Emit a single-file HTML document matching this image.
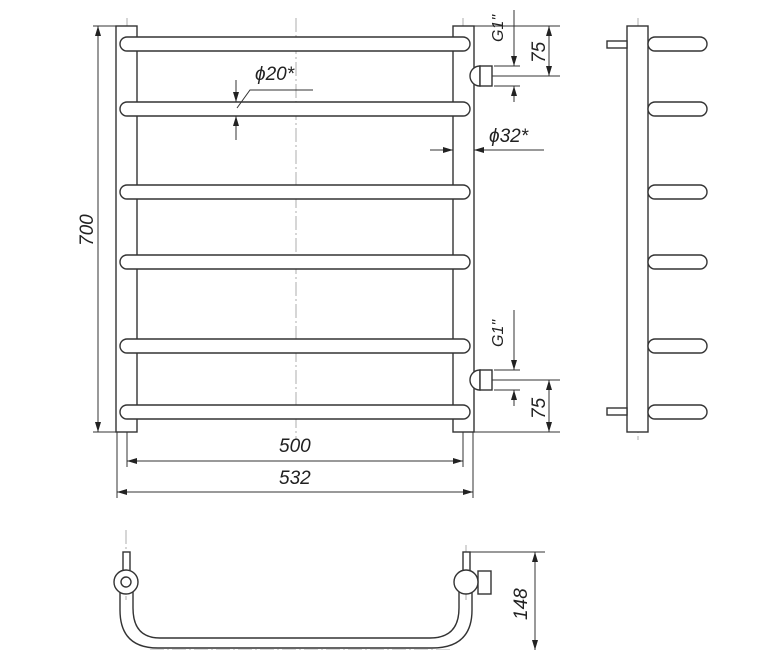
<!DOCTYPE html>
<html><head><style>body{margin:0;background:#fff}svg{display:block}text{font-family:"Liberation Sans",sans-serif;font-style:italic;fill:#222}</style></head>
<body>
<svg width="780" height="650" viewBox="0 0 780 650" xmlns="http://www.w3.org/2000/svg">
<defs>
<marker id="a" viewBox="0 0 10 6" refX="10" refY="3" markerWidth="10" markerHeight="6" orient="auto-start-reverse" markerUnits="userSpaceOnUse"><path d="M0,0L10,3L0,6z" fill="#222"/></marker>
</defs>
<g stroke="#999" stroke-width="0.8" stroke-dasharray="14,3,2,3" fill="none">
<line x1="296" y1="18" x2="296" y2="440"/>
<line x1="127" y1="18" x2="127" y2="440"/>
<line x1="463" y1="18" x2="463" y2="440"/>
<line x1="638" y1="18" x2="638" y2="440"/>
<line x1="126" y1="530" x2="126" y2="600"/>
<line x1="466" y1="545" x2="466" y2="600"/>
<line x1="150" y1="650" x2="450" y2="650"/>
</g>
<g stroke="#333" stroke-width="1.4" fill="#fff">
<rect x="116" y="26" width="21" height="406"/>
<rect x="453" y="26" width="21" height="406"/>
<rect x="120" y="37" width="350" height="14" rx="7"/>
<rect x="120" y="102" width="350" height="14" rx="7"/>
<rect x="120" y="185" width="350" height="14" rx="7"/>
<rect x="120" y="255" width="350" height="14" rx="7"/>
<rect x="120" y="339" width="350" height="14" rx="7"/>
<rect x="120" y="405" width="350" height="14" rx="7"/>
<path d="M480,66 A10,10 0 0 0 480,86 Z"/><rect x="480" y="66" width="12" height="20"/>
<path d="M480,370 A10,10 0 0 0 480,390 Z"/><rect x="480" y="370" width="12" height="20"/>
<rect x="627" y="26" width="21" height="406"/>
<rect x="607" y="41" width="20" height="7"/><rect x="607" y="408" width="20" height="7"/>
<rect x="648" y="37" width="59" height="14" rx="7"/>
<rect x="648" y="102" width="59" height="14" rx="7"/>
<rect x="648" y="185" width="59" height="14" rx="7"/>
<rect x="648" y="255" width="59" height="14" rx="7"/>
<rect x="648" y="339" width="59" height="14" rx="7"/>
<rect x="648" y="405" width="59" height="14" rx="7"/>
<path d="M120,590 L120,610 Q120,648 158,648 L432,648 Q472,648 472,610 L472,590" fill="none"/>
<path d="M133,590 L133,608 Q133,638 160,638 L430,638 Q459,638 459,608 L459,590" fill="none"/>
<rect x="123" y="552" width="7" height="20"/><rect x="463" y="552" width="7" height="20"/>
<rect x="478" y="571" width="13" height="23"/>
<circle cx="126" cy="582" r="12"/><circle cx="126" cy="582" r="5"/>
<circle cx="466" cy="582" r="12"/>
</g>
<g stroke="#333" stroke-width="1" fill="none">
<line x1="93" y1="26" x2="116" y2="26"/><line x1="93" y1="432" x2="116" y2="432"/>
<line x1="98" y1="26" x2="98" y2="432" marker-start="url(#a)" marker-end="url(#a)"/>
<line x1="127" y1="432" x2="127" y2="467"/><line x1="463" y1="432" x2="463" y2="467"/>
<line x1="127" y1="461" x2="463" y2="461" marker-start="url(#a)" marker-end="url(#a)"/>
<line x1="117" y1="432" x2="117" y2="498"/><line x1="473" y1="432" x2="473" y2="498"/>
<line x1="117" y1="492" x2="473" y2="492" marker-start="url(#a)" marker-end="url(#a)"/>
<line x1="474" y1="26" x2="560" y2="26"/><line x1="492" y1="76" x2="560" y2="76"/>
<line x1="549" y1="26" x2="549" y2="76" marker-start="url(#a)" marker-end="url(#a)"/>
<line x1="514" y1="10" x2="514" y2="66" marker-end="url(#a)"/><line x1="514" y1="102" x2="514" y2="86" marker-end="url(#a)"/>
<line x1="494" y1="66" x2="520" y2="66"/><line x1="494" y1="86" x2="520" y2="86"/>
<line x1="474" y1="432" x2="560" y2="432"/><line x1="492" y1="380" x2="560" y2="380"/>
<line x1="549" y1="380" x2="549" y2="432" marker-start="url(#a)" marker-end="url(#a)"/>
<line x1="514" y1="310" x2="514" y2="370" marker-end="url(#a)"/><line x1="514" y1="406" x2="514" y2="390" marker-end="url(#a)"/>
<line x1="494" y1="370" x2="520" y2="370"/><line x1="494" y1="390" x2="520" y2="390"/>
<line x1="236" y1="80" x2="236" y2="102" marker-end="url(#a)"/><line x1="236" y1="140" x2="236" y2="116" marker-end="url(#a)"/>
<polyline points="237,108 250,90 313,90"/>
<line x1="430" y1="150" x2="453" y2="150" marker-end="url(#a)"/><line x1="544" y1="150" x2="474" y2="150" marker-end="url(#a)"/>
<line x1="470" y1="552" x2="545" y2="552"/>
<line x1="535" y1="552" x2="535" y2="650" marker-start="url(#a)" marker-end="url(#a)"/>
</g>
<g font-size="19">
<text transform="translate(93,246) rotate(-90)">700</text>
<text x="279" y="452">500</text>
<text x="279" y="484">532</text>
<text x="255" y="80">ϕ20*</text>
<text x="489" y="142">ϕ32*</text>
<text transform="translate(545,63) rotate(-90)">75</text>
<text transform="translate(545,419) rotate(-90)">75</text>
<text transform="translate(503,42) rotate(-90)" font-size="16">G1"</text>
<text transform="translate(503,347) rotate(-90)" font-size="16">G1"</text>
<text transform="translate(527,620) rotate(-90)">148</text>
</g>
</svg>
</body></html>
